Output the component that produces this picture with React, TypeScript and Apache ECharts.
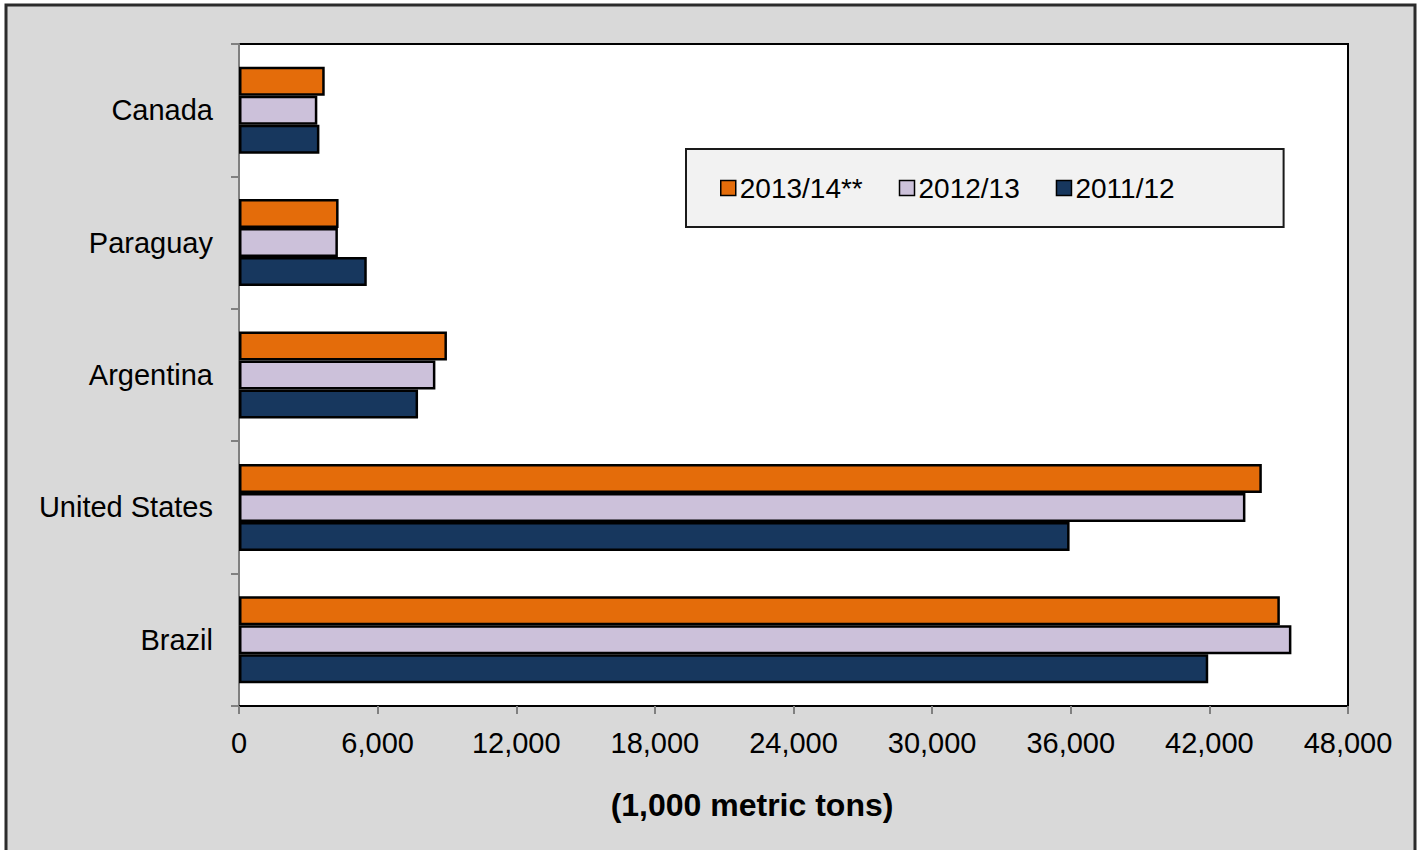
import React, { useEffect, useRef } from "react";
import * as echarts from "echarts";

// Soybean production by country (1,000 metric tons)
const countries = ["Brazil", "United States", "Argentina", "Paraguay", "Canada"];
const seasons = ["2013/14**", "2012/13", "2011/12"];
const values2013 = [45050, 44270, 9000, 4310, 3710];
const values2012 = [45550, 43560, 8500, 4280, 3390];
const values2011 = [41950, 35950, 7750, 5530, 3480];
const seasonColors = ["#E46C0A", "#CCC1DA", "#17375E"];
const xTicks = { min: 0, max: 48000, interval: 6000 };

const FONT = "'Liberation Sans', Arial, Helvetica, sans-serif";

export default function App() {
  const ref = useRef<HTMLDivElement>(null);

  useEffect(() => {
    if (!ref.current) return;
    const chart = echarts.init(ref.current, undefined, { renderer: "svg" });
    const seriesValues = [values2013, values2012, values2011];

    chart.setOption({
      animation: false,
      backgroundColor: "#ffffff",
      textStyle: { fontFamily: FONT },
      graphic: [
        {
          type: "rect",
          z: -10,
          shape: { x: 6, y: 5, width: 1409, height: 870 },
          style: { fill: "#d9d9d9", stroke: "#2b2b2b", lineWidth: 3 },
          silent: true,
        },
        {
          type: "text",
          x: 752,
          y: 805,
          style: {
            text: "(1,000 metric tons)",
            font: `bold 32px ${FONT}`,
            fill: "#000",
            align: "center",
            verticalAlign: "middle",
          },
        },
      ],
      grid: {
        left: 239,
        top: 44,
        right: 75,
        bottom: 144,
        show: true,
        backgroundColor: "#ffffff",
        borderColor: "#000000",
        borderWidth: 2,
        z: 0,
      },
      legend: {
        left: 686,
        top: 149,
        orient: "horizontal",
        data: seasons.map((name) => ({ name, icon: "rect" })),
        backgroundColor: "#f2f2f2",
        borderColor: "#1a1a1a",
        borderWidth: 2,
        padding: [25, 109, 25, 34],
        itemGap: 36,
        itemWidth: 15,
        itemHeight: 15,
        itemStyle: { borderColor: "#000", borderWidth: 1.5 },
        textStyle: { fontSize: 28, color: "#000", fontFamily: FONT, padding: [0, 0, 0, -1] },
      },
      xAxis: {
        type: "value",
        min: xTicks.min,
        max: xTicks.max,
        interval: xTicks.interval,
        splitLine: { show: false },
        axisLine: { show: true, lineStyle: { color: "#000", width: 2 } },
        axisTick: { show: true, length: 8, lineStyle: { color: "#808080", width: 2 } },
        axisLabel: {
          fontSize: 29,
          color: "#000",
          margin: 22,
          fontFamily: FONT,
          formatter: (v: number) => v.toLocaleString("en-US"),
        },
      },
      yAxis: {
        type: "category",
        data: countries,
        axisLine: { show: true, lineStyle: { color: "#808080", width: 2 } },
        axisTick: { show: true, length: 8, lineStyle: { color: "#808080", width: 2 } },
        axisLabel: { fontSize: 29, color: "#000", margin: 26, fontFamily: FONT },
      },
      series: seasons.map((name, i) => ({
        name,
        type: "bar",
        data: seriesValues[i],
        barWidth: 29,
        barGap: "0%",
        itemStyle: { color: seasonColors[i], borderColor: "#000", borderWidth: 2.5 },
      })),
    });

    return () => chart.dispose();
  }, []);

  return (
    <div
      ref={ref}
      style={{ position: "absolute", left: 0, top: 0, width: 1423, height: 850 }}
    />
  );
}
